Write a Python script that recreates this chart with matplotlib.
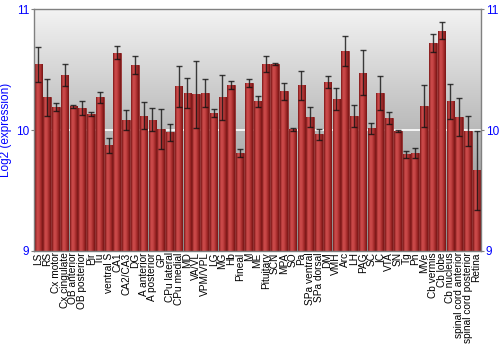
import numpy as np
import matplotlib
matplotlib.use("Agg")
import matplotlib.pyplot as plt
from matplotlib.colors import LinearSegmentedColormap

categories = ["LS", "RS", "Cx motor", "Cx cingulate", "OB anterior", "OB posterior", "Pir", "Tu",
              "ventral S", "CA1", "CA2/CA3", "DG", "A anterior", "A posterior", "GP", "CPu lateral",
              "CPu medial", "MD", "VA/VL", "VPM/VPL", "LG", "MG", "Hb", "Pineal", "M", "ME",
              "Pituitary", "SCN", "MPA", "SO", "Pa", "SPa ventral", "SPa dorsal", "DM", "VMH", "Arc",
              "LH", "PAG", "SC", "IC", "VTA", "SN", "Tg", "Pn", "MVe", "Cb vermis", "Cb lobe",
              "Cb nucleus", "spinal cord anterior", "spinal cord posterior", "Retina"]
values = [10.544, 10.27, 10.19, 10.456, 10.196, 10.182, 10.13, 10.27,
          9.873, 10.641, 10.086, 10.536, 10.12, 10.086, 10.008, 9.983,
          10.362, 10.307, 10.296, 10.304, 10.14, 10.27, 10.37, 9.812, 10.387, 10.238,
          10.544, 10.547, 10.32, 10.006, 10.37, 10.108, 9.964, 10.398, 10.257, 10.652,
          10.116, 10.475, 10.014, 10.304, 10.097, 9.992, 9.798, 9.81, 10.196, 10.721, 10.823,
          10.238, 10.108, 9.992, 9.666]
errors = [0.145, 0.15, 0.036, 0.088, 0.015, 0.055, 0.017, 0.044,
          0.06, 0.05, 0.083, 0.076, 0.11, 0.097, 0.167, 0.07,
          0.17, 0.127, 0.276, 0.116, 0.03, 0.184, 0.032, 0.033, 0.035, 0.047,
          0.065, 0.006, 0.072, 0.012, 0.119, 0.083, 0.046, 0.052, 0.09, 0.123,
          0.09, 0.186, 0.044, 0.142, 0.05, 0.011, 0.026, 0.043, 0.174, 0.072, 0.072,
          0.145, 0.156, 0.127, 0.329]
yticks = [9, 10, 11]

plt.rcParams['font.family'] = ['Liberation Sans', 'DejaVu Sans']

fig = plt.figure(figsize=(5, 3.5), dpi=100)
ax = fig.add_axes([0.068, 0.283, 0.894, 0.691])

x = np.arange(len(categories))
ymin, ymax = 9, 11

# background gradient
bg = LinearSegmentedColormap.from_list("bg", ["#8a8a8a", "#b9b9b9", "#f3f3f3"])
grad = np.linspace(0, 1, 256).reshape(-1, 1)
ax.imshow(grad, cmap=bg, aspect='auto', origin='lower',
          extent=[-0.5, len(categories) - 0.5, ymin, ymax], zorder=0)
ax.axhline(10, color='white', lw=1.2, zorder=1)

bars = ax.bar(x, np.array(values) - ymin, bottom=ymin, width=0.86,
              color='#b03232', edgecolor='#8a2020', linewidth=0.5, zorder=2)
barcm = LinearSegmentedColormap.from_list("bar", ["#7a1616", "#cc4a4a", "#c64646", "#a42a2a", "#761616"])
hgrad = np.linspace(0, 1, 64).reshape(1, -1)
for b in bars:
    x0 = b.get_x(); w = b.get_width(); y0 = b.get_y(); h = b.get_height()
    im = ax.imshow(hgrad, cmap=barcm, aspect='auto',
                   extent=[x0, x0 + w, y0, y0 + h], zorder=2.5)
    im.set_clip_path(b)

ax.errorbar(x, values, yerr=errors, fmt='none', ecolor='#111111', elinewidth=1,
            capsize=2, capthick=1, alpha=0.8, zorder=3)

ax.set_xlim(-0.5, len(categories) - 0.5)
ax.set_ylim(ymin, ymax)
ax.set_xticks(x)
ax.set_xticklabels(categories, rotation=90, fontsize=7.3)
ax.tick_params(axis='x', length=0, pad=1)
ax.set_yticks(yticks)
ax.set_yticklabels([str(t) for t in yticks])
ax.tick_params(axis='y', colors='#808080', labelcolor='#0000ff', labelsize=8.5,
               length=2.5, right=True, labelright=True, pad=1)
ax.set_ylabel("Log2 (expression)", color='#0000ff', fontsize=8.5, labelpad=3)
for s in ax.spines.values():
    s.set_color('#808080')
    s.set_linewidth(1)

fig.savefig("out.png", dpi=100)
